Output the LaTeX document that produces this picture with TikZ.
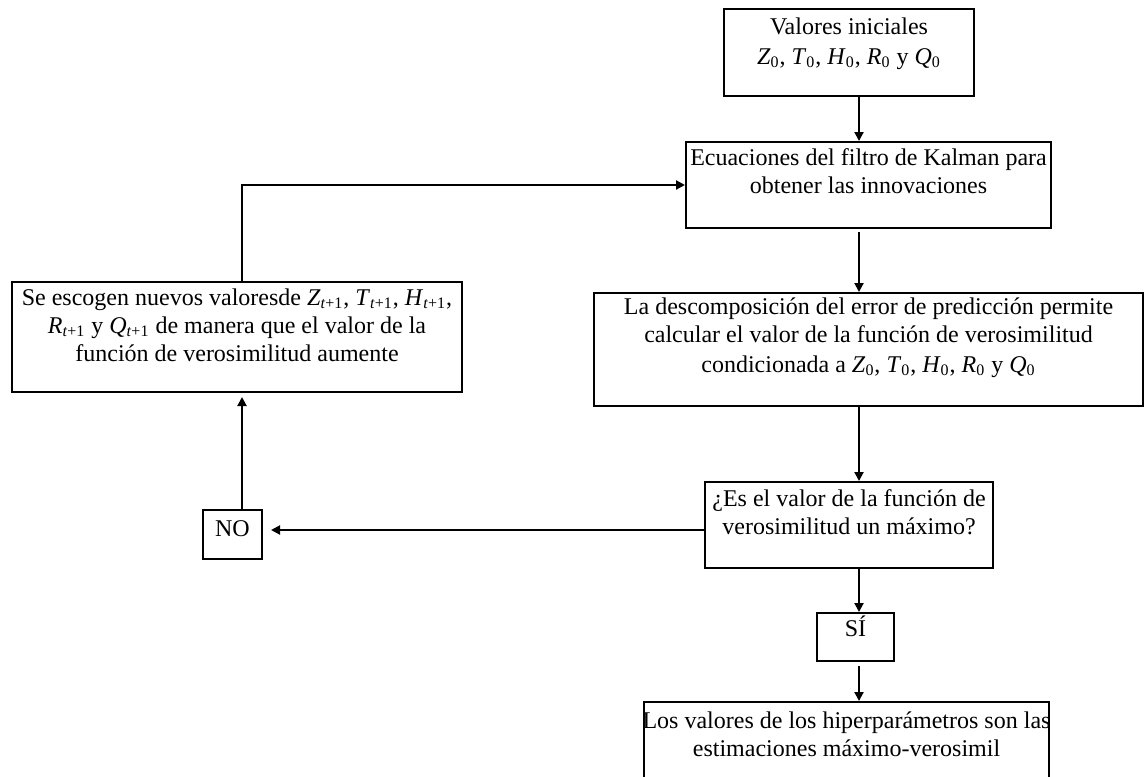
\documentclass[tikz,border=0pt]{standalone}
\usepackage{fontspec}
\setmainfont{Liberation Serif}
\usetikzlibrary{arrows.meta,fit}
\newcommand{\vsub}[2]{\textit{#1}\textsubscript{#2}}
\newcommand{\vtp}[1]{\textit{#1}\textsubscript{\textit{t}+1}}
\begin{document}
\begin{tikzpicture}[x=0.5pt,y=-0.5pt,
  box/.style={draw, line width=1pt, inner sep=0pt},
  txt/.style={font=\fontsize{12}{14}\selectfont, align=center, inner sep=0pt, anchor=base},
  arr/.style={line width=1pt, -{Triangle[length=4.5pt,width=4.5pt]}}]
\useasboundingbox (0,0) rectangle (1144,776);

% boxes
\node[box, fit={(724,9) (974,96)}] (b1) {};
\node[box, fit={(686,142) (1051,228)}] (b2) {};
\node[box, fit={(594,293) (1143,406)}] (b3) {};
\node[box, fit={(12,282) (462,392)}] (lb) {};
\node[box, fit={(705,482) (993,568)}] (dec) {};
\node[box, fit={(203,510) (262,559)}] (no) {};
\node[box, fit={(817,613) (894,661)}] (si) {};
\node[box, fit={(644,702) (1049,790)}] (fin) {};

% texts (base anchor = baseline of the last line)
\node[txt] (t1) at ([yshift=-28pt]b1.north) {Valores iniciales\\[1pt]\vsub{Z}{0}, \vsub{T}{0}, \vsub{H}{0}, \vsub{R}{0} y \vsub{Q}{0}};
\node[txt] (t2) at ([yshift=-26pt]b2.north) {Ecuaciones del filtro de Kalman para\\obtener las innovaciones};
\node[txt] (t3) at ([yshift=-40pt]b3.north) {La descomposición del error de predicción permite\\calcular el valor de la función de verosimilitud\\[1pt]condicionada a \vsub{Z}{0}, \vsub{T}{0}, \vsub{H}{0}, \vsub{R}{0} y \vsub{Q}{0}};
\node[txt] (tl) at ([yshift=-40pt]lb.north) {Se escogen nuevos valoresde \vtp{Z}, \vtp{T}, \vtp{H},\\\vtp{R} y \vtp{Q} de manera que el valor de la\\función de verosimilitud aumente};
\node[txt] (td) at ([yshift=-26.5pt]dec.north) {¿Es el valor de la función de\\verosimilitud un máximo?};
\node[txt] (tn) at ([yshift=-13.5pt]no.north) {NO};
\node[txt] (ts) at ([yshift=-12pt]si.north) {SÍ};
\node[txt] (tf) at ([yshift=-27.5pt]fin.north) {Los valores de los hiperparámetros son las\\estimaciones máximo-verosimil};

% helper coordinates
\coordinate (ax) at (859,0);
\coordinate (ay) at (0,530);
\coordinate (lx) at (242,0);

% connectors
\draw[arr] (b1.south -| ax) -- (b2.north -| ax);
\draw[arr, shorten <=1.5pt] (b2.south -| ax) -- (b3.north -| ax);
\draw[arr] (b3.south -| ax) -- (dec.north -| ax);
\draw[arr] (dec.south -| ax) -- (si.north -| ax);
\draw[arr, shorten <=2pt] (si.south -| ax) -- (fin.north -| ax);
\draw[arr, shorten >=4pt] (dec.west |- ay) -- (no.east |- ay);
\draw[arr, shorten >=2pt] (no.north -| lx) -- (lb.south -| lx);
\draw[arr] (lb.north -| lx) |- (b2.west);
\end{tikzpicture}
\end{document}
